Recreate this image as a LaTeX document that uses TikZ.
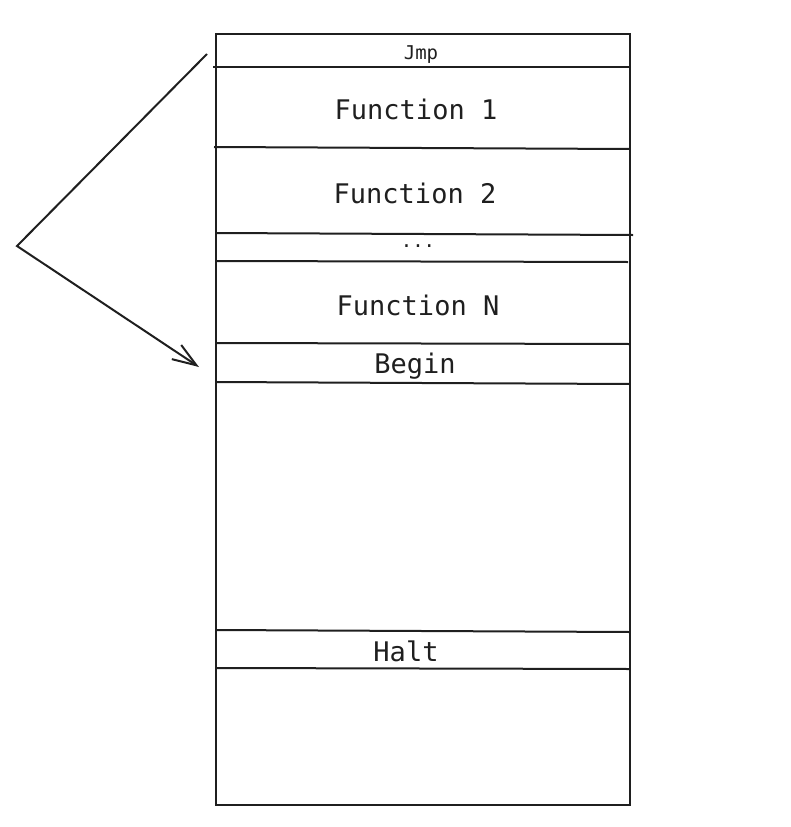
\documentclass[tikz,border=0pt]{standalone}
\usepackage{fontspec}
\setmonofont{DejaVu Sans Mono}
\usetikzlibrary{arrows.meta, positioning}

\begin{document}
\begin{tikzpicture}[x=1pt, y=-1pt, line width=2pt, color={black!88},
    seg/.style={font=\ttfamily\fontsize{27}{29}\selectfont, inner sep=0pt},
    small/.style={font=\ttfamily\fontsize{19}{21}\selectfont, inner sep=0pt},
    divider/.style={line width=2pt},
    arrow/.style={line width=2pt, -{Straight Barb[length=24pt, width=17pt, line width=2pt]}}]
    \useasboundingbox (0,0) rectangle (791,827);
    % memory layout
    \draw (216,34) rectangle (630,805);
    \node [small] (jmp) at (421,55) {Jmp};
    \node [seg] (f1) at (416,109) {Function 1};
    \node [seg] (f2) at (415,193) {Function 2};
    \node [small] (dots) at (418,246) {...};
    \node [seg] (fn) at (418,305) {Function N};
    \node [seg] (begin) at (415,366) {Begin};
    \node [seg] (halt) at (406,651) {Halt};
    \draw [divider] (213,67) -- (630,67);
    \draw [divider] (214,147) -- (630,149);
    \draw [divider] (216,233) -- (633,235);
    \draw [divider] (216,261) -- (628,262);
    \draw [divider] (216,343) -- (630,344);
    \draw [divider] (216,382) -- (630,384);
    \draw [divider] (216,630) -- (630,632);
    \draw [divider] (216,668) -- (630,669);
    % jump to begin
    \coordinate (from) at (207,54);
    \coordinate (bend) at (17,246);
    \coordinate (to) at (199,367);
    \draw [arrow] (from) -- (bend) -- (to);
\end{tikzpicture}
\end{document}
